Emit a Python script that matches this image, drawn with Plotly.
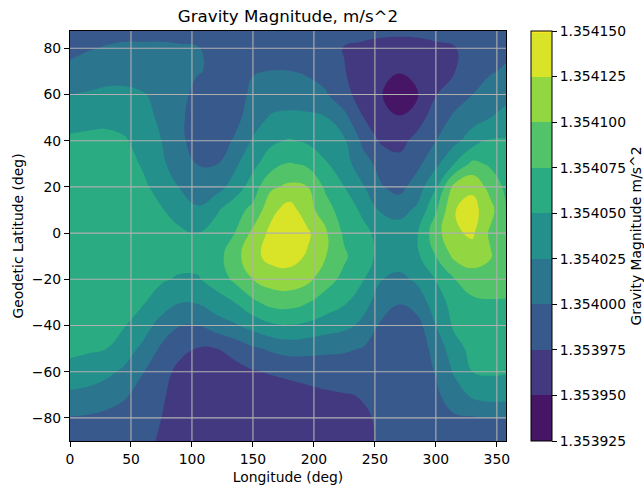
import plotly.graph_objects as go

# Grid columns (longitude, deg) and rows (geodetic latitude, deg)
lon_deg = [0, 15, 30, 45, 60, 75, 90, 105, 120, 135, 150, 165, 180, 195, 210,
           225, 240, 255, 270, 285, 300, 315, 330, 345, 357.5]
lat_deg = [-90, -80, -70, -60, -50, -40, -30, -20, -10, 0,
           10, 20, 30, 40, 50, 60, 70, 80, 90]

# Gravity magnitude minus 1.3539 m/s^2, in micro-m/s^2; one row per latitude
g_excess_um = [
    [88, 87, 85, 81, 77, 74, 70, 66, 63, 62, 62, 63, 64, 66, 69, 71, 73, 76, 79, 82, 85, 87, 88, 89, 89],
    [99, 97, 94, 89, 82, 75, 68, 62, 58, 56, 56, 58, 60, 63, 67, 70, 73, 77, 81, 86, 91, 97, 98, 100, 100],
    [120, 117, 111, 103, 90, 78, 66, 60, 57, 57, 60, 63, 66, 69, 72, 74, 76, 80, 85, 89, 96, 112, 130, 136, 135],
    [143, 139, 131, 120, 101, 82, 70, 64, 63, 66, 73, 77, 80, 83, 86, 88, 89, 90, 88, 92, 101, 128, 150, 153, 152],
    [155, 153, 150, 137, 119, 96, 80, 74, 75, 84, 96, 104, 110, 108, 105, 103, 99, 90, 88, 88, 108, 141, 157, 160, 160],
    [158, 157, 155, 151, 136, 115, 101, 100, 112, 122, 134, 146, 149, 145, 138, 131, 120, 96, 90, 91, 125, 154, 160, 164, 165],
    [164, 162, 160, 157, 152, 138, 126, 127, 140, 150, 170, 183, 185, 176, 163, 153, 133, 115, 101, 112, 137, 160, 170, 173, 174],
    [168, 166, 164, 162, 158, 153, 147, 148, 160, 180, 200, 212, 214, 206, 185, 168, 152, 126, 118, 130, 151, 174, 188, 187, 180],
    [170, 168, 166, 164, 163, 162, 160, 159, 165, 190, 218, 233, 235, 222, 200, 179, 158, 145, 140, 146, 175, 205, 213, 202, 182],
    [170, 170, 168, 166, 164, 161, 155, 149, 162, 175, 206, 232, 240, 229, 203, 170, 156, 143, 138, 149, 190, 221, 229, 195, 180],
    [170, 170, 168, 164, 159, 152, 138, 128, 146, 166, 181, 218, 236, 210, 185, 162, 146, 122, 116, 130, 172, 224, 234, 208, 175],
    [167, 169, 167, 162, 155, 140, 124, 113, 115, 135, 163, 196, 205, 200, 170, 150, 128, 102, 92, 113, 147, 208, 220, 190, 170],
    [165, 168, 166, 160, 147, 130, 111, 99, 99, 120, 143, 165, 177, 170, 152, 135, 110, 92, 82, 94, 119, 150, 181, 171, 165],
    [157, 160, 158, 152, 142, 125, 106, 88, 86, 103, 128, 145, 152, 146, 138, 128, 95, 72, 68, 82, 100, 118, 138, 153, 153],
    [134, 137, 142, 142, 132, 121, 104, 90, 87, 92, 113, 128, 131, 130, 126, 107, 76, 60, 51, 66, 86, 104, 115, 125, 130],
    [125, 128, 133, 133, 127, 117, 106, 94, 89, 92, 104, 110, 112, 110, 102, 84, 63, 51, 40, 49, 74, 88, 100, 112, 121],
    [104, 107, 110, 111, 110, 108, 105, 101, 97, 96, 99, 100.5, 100.5, 97, 91, 76, 64, 55, 51, 56, 65, 74, 88, 98, 103],
    [96, 99, 101, 102, 102, 102, 101.5, 100.5, 97, 93, 90, 88, 86, 84, 80, 74, 72, 70, 69, 70, 72, 74, 80, 88, 95],
    [90, 92, 94, 95, 95, 95, 94, 93, 91, 89, 88, 87, 86, 86, 85, 84, 82, 81, 81, 81, 82, 84, 86, 88, 90],
]

# Filled-contour levels (micro-m/s^2 above the base value) and their labels
G_BASE = 1.3539
level_um = [25, 50, 75, 100, 125, 150, 175, 200, 225, 250]
level_text = [f"{G_BASE + v * 1e-6:.6f}" for v in level_um]

x_ticks = [0, 50, 100, 150, 200, 250, 300, 350]
y_ticks = [-80, -60, -40, -20, 0, 20, 40, 60, 80]

X_RANGE = [0, 357.5]
Y_RANGE = [-90, 87.5]

FONT = "DejaVu Sans"
TXT = dict(family=FONT, size=13.9, color="black")

W, H = 644, 485
ML, MR, MT, MB = 70, 138, 31, 44
plot_w = W - ML - MR

contour = go.Contour(
    x=lon_deg,
    y=lat_deg,
    z=g_excess_um,
    colorscale="Viridis",
    zmin=level_um[0],
    zmax=level_um[-1],
    autocontour=False,
    contours=dict(start=level_um[0], end=level_um[-1], size=level_um[1] - level_um[0],
                  coloring="fill", showlines=False),
    line=dict(width=0, smoothing=1.3),
    hoverinfo="skip",
    colorbar=dict(
        thickness=21, thicknessmode="pixels",
        len=1, lenmode="fraction", y=0.5, yanchor="middle", ypad=0,
        x=(531 - ML) / plot_w, xanchor="left", xpad=0,
        outlinewidth=1, outlinecolor="black",
        tickmode="array", tickvals=level_um, ticktext=level_text,
        ticks="outside", ticklen=5, tickwidth=1, tickcolor="black",
        tickfont=TXT,
        title=dict(text="Gravity Magnitude m/s^2", side="right", font=TXT),
    ),
)

fig = go.Figure(contour)

# Grid lines drawn on top of the filled contours
grid_style = dict(color="#b0b0b0", width=1.1)
shapes = []
for v in x_ticks:
    if X_RANGE[0] < v < X_RANGE[1]:
        shapes.append(dict(type="line", xref="x", yref="paper", x0=v, x1=v, y0=0, y1=1,
                           line=grid_style, layer="above"))
for v in y_ticks:
    if Y_RANGE[0] < v < Y_RANGE[1]:
        shapes.append(dict(type="line", xref="paper", yref="y", x0=0, x1=1, y0=v, y1=v,
                           line=grid_style, layer="above"))

axis_common = dict(
    ticks="outside", ticklen=5, tickwidth=1.1, tickcolor="black",
    showline=True, mirror=True, linecolor="black", linewidth=1.1,
    showgrid=False, zeroline=False, tickfont=TXT,
)

fig.update_layout(
    width=W, height=H,
    margin=dict(l=ML, r=MR, t=MT, b=MB, pad=0, autoexpand=False),
    paper_bgcolor="white", plot_bgcolor="white",
    font=TXT,
    title=dict(text="Gravity Magnitude, m/s^2", x=0.5, xref="paper", xanchor="center",
               y=1 - 16 / H, yref="container", yanchor="middle",
               font=dict(family=FONT, size=16.7, color="black")),
    xaxis=dict(range=X_RANGE, tickmode="array", tickvals=x_ticks,
               title=dict(text="Longitude (deg)", font=TXT, standoff=14), **axis_common),
    yaxis=dict(range=Y_RANGE, tickmode="array", tickvals=y_ticks,
               title=dict(text="Geodetic Latitude (deg)", font=TXT, standoff=4), **axis_common),
    shapes=shapes,
)

fig.write_html("out.html", config={"displayModeBar": False})
